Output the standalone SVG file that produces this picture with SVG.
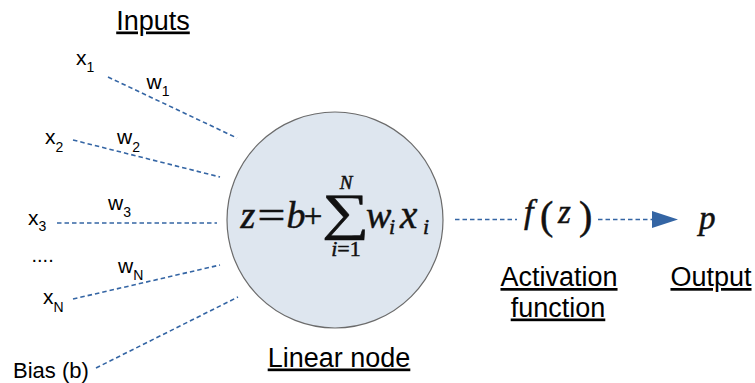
<svg xmlns="http://www.w3.org/2000/svg" width="755" height="383" viewBox="0 0 755 383">
  <style>
    .lbl { font-family: "Liberation Sans", Arial, sans-serif; fill: #000; }
    .head { font-size: 27px; text-decoration: underline; text-anchor: middle; }
    .var { font-size: 21px; }
    .sub { font-size: 14px; }
    .math { font-family: "Liberation Serif", "Times New Roman", serif; fill: #111; stroke: #111; stroke-width: 0.5; }
    .it { font-style: italic; }
    .link { fill: none; stroke: #3465a4; stroke-width: 1.6; stroke-dasharray: 4.5 3; }
  </style>
  <defs>
    <marker id="arrowhead" markerUnits="userSpaceOnUse" markerWidth="27" markerHeight="18" refX="0" refY="8.5" orient="auto">
      <path d="M0,0 L26,8.5 L0,17 Z" fill="#3465a4"/>
    </marker>
  </defs>

  <rect width="755" height="383" fill="#ffffff"/>

  <!-- dashed connectors -->
  <g id="connectors">
    <line class="link" x1="108" y1="77" x2="237" y2="138"/>
    <line class="link" x1="73" y1="140" x2="220" y2="177"/>
    <line class="link" x1="57" y1="223" x2="217" y2="223"/>
    <line class="link" x1="73" y1="299" x2="220" y2="265"/>
    <line class="link" x1="96" y1="368" x2="238" y2="297"/>
    <line class="link" x1="455" y1="219.5" x2="517" y2="219.5"/>
    <line class="link" x1="598" y1="219.5" x2="652" y2="219.5" marker-end="url(#arrowhead)"/>
  </g>

  <!-- section headings -->
  <g id="inputs-heading"><text class="lbl head" x="153" y="29.5">Inputs</text></g>

  <!-- inputs and weights -->
  <g id="input-x1"><text class="lbl var" x="76" y="65">x<tspan class="sub" dy="7">1</tspan></text></g>
  <g id="weight-w1"><text class="lbl var" x="146.5" y="88.5">w<tspan class="sub" dy="7">1</tspan></text></g>
  <g id="input-x2"><text class="lbl var" x="45" y="144">x<tspan class="sub" dy="7.5">2</tspan></text></g>
  <g id="weight-w2"><text class="lbl var" x="117" y="144">w<tspan class="sub" dy="7.5">2</tspan></text></g>
  <g id="input-x3"><text class="lbl var" x="28" y="225">x<tspan class="sub" dy="6">3</tspan></text></g>
  <g id="weight-w3"><text class="lbl var" x="108" y="209.5">w<tspan class="sub" dy="7.5">3</tspan></text></g>
  <g id="ellipsis"><text class="lbl" x="31.5" y="262" font-size="20">....</text></g>
  <g id="weight-wN"><text class="lbl var" x="118" y="272.5">w<tspan class="sub" dy="7">N</tspan></text></g>
  <g id="input-xN"><text class="lbl var" x="43" y="303.5">x<tspan class="sub" dy="8">N</tspan></text></g>
  <g id="bias"><text class="lbl" x="13" y="378" font-size="22">Bias (b)</text></g>

  <!-- linear node: z = b + sum_{i=1}^{N} w_i x_i -->
  <g id="linear-node">
    <circle cx="335" cy="220" r="108" fill="#dee6ef" stroke="#6b6b6b" stroke-width="1.2"/>
    <text class="math it" x="240.5" y="228" font-size="38">z</text>
    <text class="math" transform="translate(271.5,228) scale(1.3,1)" font-size="38" text-anchor="middle">=</text>
    <text class="math it" x="286.5" y="228" font-size="38">b</text>
    <text class="math" x="313" y="227" font-size="33" text-anchor="middle">+</text>
    <text class="math" transform="translate(346,228.5) scale(1.3,1)" font-size="51" text-anchor="middle">∑</text>
    <text class="math it" x="346" y="188.5" font-size="19" text-anchor="middle">N</text>
    <text class="math" x="346" y="256" font-size="22" text-anchor="middle"><tspan class="it">i</tspan>=1</text>
    <text class="math it" x="366" y="228" font-size="38">w</text>
    <text class="math it" x="389" y="234" font-size="22">i</text>
    <text class="math it" x="400" y="228" font-size="39">x</text>
    <text class="math it" x="423" y="234" font-size="22">i</text>
  </g>
  <g id="linear-node-label"><text class="lbl head" x="339" y="366.5">Linear node</text></g>

  <!-- activation function f(z) -->
  <g id="activation">
    <text class="math it" x="524" y="223" font-size="34">f</text>
    <text class="math" x="540" y="229" font-size="40" stroke-width="0.2">(</text>
    <text class="math it" x="558" y="223" font-size="33">z</text>
    <text class="math" x="579" y="229" font-size="40" stroke-width="0.2">)</text>
  </g>
  <g id="activation-label">
    <text class="lbl head" x="559" y="286">Activation</text>
    <text class="lbl head" x="558" y="316.5">function</text>
  </g>

  <!-- output -->
  <g id="output">
    <text class="math it" x="699" y="229" font-size="33">p</text>
  </g>
  <g id="output-label"><text class="lbl head" x="711" y="286">Output</text></g>
</svg>
